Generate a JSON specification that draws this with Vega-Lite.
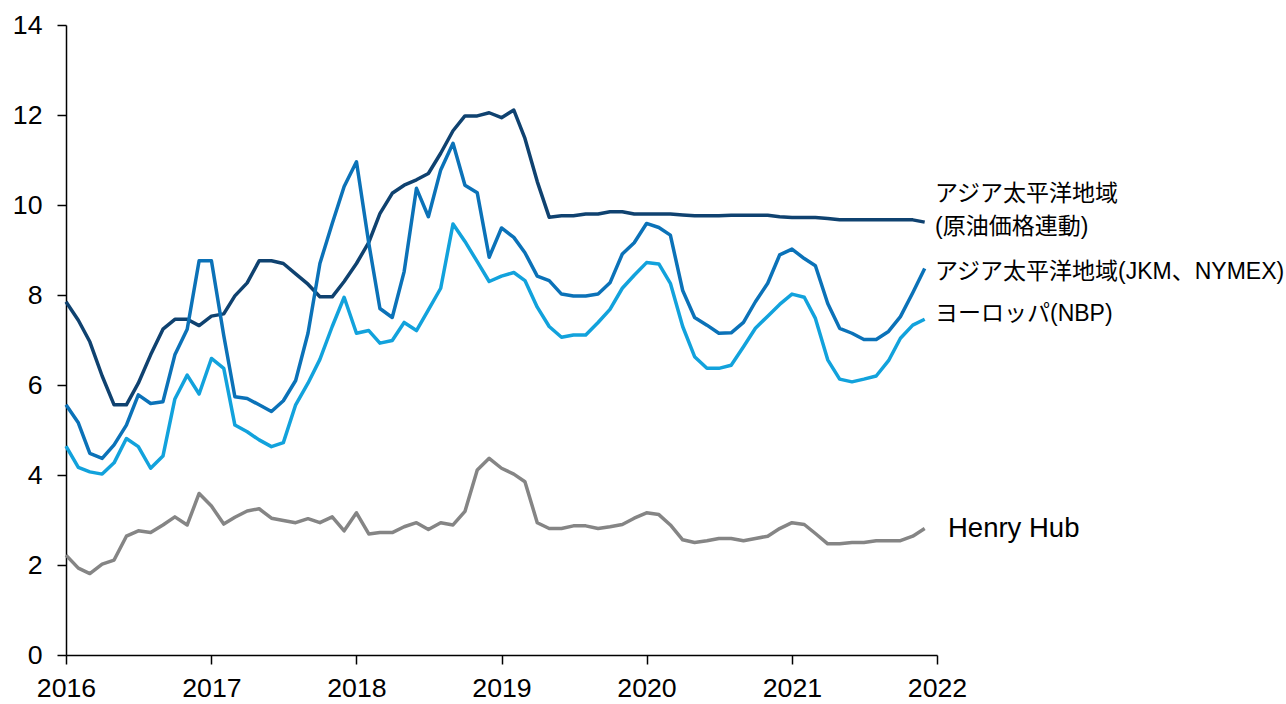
{
  "$schema": "https://vega.github.io/schema/vega-lite/v6.json",
  "width": 871,
  "height": 630,
  "autosize": {"type": "none"},
  "padding": {"left": 66, "top": 25, "right": 349, "bottom": 49},
  "background": "white",
  "config": {
    "view": {"stroke": null},
    "axis": {
      "grid": false,
      "domainColor": "black",
      "domainWidth": 1.5,
      "tickColor": "black",
      "tickWidth": 1.5,
      "tickSize": 9,
      "labelFont": "Liberation Sans",
      "labelFontSize": 26.7,
      "labelColor": "black",
      "title": null
    }
  },
  "datasets": {
    "prices": [
      {"date": "2016-01-01", "oil": 7.85, "jkm": 5.56, "nbp": 4.64, "hh": 2.22},
      {"date": "2016-02-01", "oil": 7.44, "jkm": 5.16, "nbp": 4.17, "hh": 1.93},
      {"date": "2016-03-01", "oil": 6.96, "jkm": 4.48, "nbp": 4.07, "hh": 1.81},
      {"date": "2016-04-01", "oil": 6.2, "jkm": 4.37, "nbp": 4.02, "hh": 2.02},
      {"date": "2016-05-01", "oil": 5.56, "jkm": 4.67, "nbp": 4.27, "hh": 2.11},
      {"date": "2016-06-01", "oil": 5.56, "jkm": 5.11, "nbp": 4.81, "hh": 2.64},
      {"date": "2016-07-01", "oil": 6.04, "jkm": 5.78, "nbp": 4.63, "hh": 2.76},
      {"date": "2016-08-01", "oil": 6.67, "jkm": 5.59, "nbp": 4.15, "hh": 2.72},
      {"date": "2016-09-01", "oil": 7.24, "jkm": 5.63, "nbp": 4.42, "hh": 2.89},
      {"date": "2016-10-01", "oil": 7.46, "jkm": 6.67, "nbp": 5.69, "hh": 3.07},
      {"date": "2016-11-01", "oil": 7.46, "jkm": 7.24, "nbp": 6.22, "hh": 2.89},
      {"date": "2016-12-01", "oil": 7.32, "jkm": 8.76, "nbp": 5.8, "hh": 3.59},
      {"date": "2017-01-01", "oil": 7.53, "jkm": 8.76, "nbp": 6.59, "hh": 3.31},
      {"date": "2017-02-01", "oil": 7.58, "jkm": 7.1, "nbp": 6.37, "hh": 2.91},
      {"date": "2017-03-01", "oil": 7.98, "jkm": 5.74, "nbp": 5.11, "hh": 3.06},
      {"date": "2017-04-01", "oil": 8.27, "jkm": 5.7, "nbp": 4.96, "hh": 3.2},
      {"date": "2017-05-01", "oil": 8.76, "jkm": 5.56, "nbp": 4.78, "hh": 3.25},
      {"date": "2017-06-01", "oil": 8.76, "jkm": 5.41, "nbp": 4.63, "hh": 3.04},
      {"date": "2017-07-01", "oil": 8.7, "jkm": 5.65, "nbp": 4.72, "hh": 2.99},
      {"date": "2017-08-01", "oil": 8.47, "jkm": 6.1, "nbp": 5.56, "hh": 2.94},
      {"date": "2017-09-01", "oil": 8.24, "jkm": 7.15, "nbp": 6.04, "hh": 3.03},
      {"date": "2017-10-01", "oil": 7.96, "jkm": 8.7, "nbp": 6.57, "hh": 2.94},
      {"date": "2017-11-01", "oil": 7.96, "jkm": 9.59, "nbp": 7.3, "hh": 3.07},
      {"date": "2017-12-01", "oil": 8.3, "jkm": 10.41, "nbp": 7.95, "hh": 2.76},
      {"date": "2018-01-01", "oil": 8.7, "jkm": 10.96, "nbp": 7.15, "hh": 3.16},
      {"date": "2018-02-01", "oil": 9.17, "jkm": 9.15, "nbp": 7.21, "hh": 2.69},
      {"date": "2018-03-01", "oil": 9.81, "jkm": 7.7, "nbp": 6.93, "hh": 2.72},
      {"date": "2018-04-01", "oil": 10.26, "jkm": 7.5, "nbp": 6.99, "hh": 2.72},
      {"date": "2018-05-01", "oil": 10.44, "jkm": 8.52, "nbp": 7.39, "hh": 2.85},
      {"date": "2018-06-01", "oil": 10.56, "jkm": 10.37, "nbp": 7.21, "hh": 2.94},
      {"date": "2018-07-01", "oil": 10.7, "jkm": 9.74, "nbp": 7.67, "hh": 2.79},
      {"date": "2018-08-01", "oil": 11.15, "jkm": 10.78, "nbp": 8.15, "hh": 2.94},
      {"date": "2018-09-01", "oil": 11.65, "jkm": 11.37, "nbp": 9.58, "hh": 2.89},
      {"date": "2018-10-01", "oil": 11.98, "jkm": 10.44, "nbp": 9.19, "hh": 3.19},
      {"date": "2018-11-01", "oil": 11.98, "jkm": 10.27, "nbp": 8.74, "hh": 4.11},
      {"date": "2018-12-01", "oil": 12.05, "jkm": 8.84, "nbp": 8.3, "hh": 4.37},
      {"date": "2019-01-01", "oil": 11.94, "jkm": 9.49, "nbp": 8.42, "hh": 4.15},
      {"date": "2019-02-01", "oil": 12.11, "jkm": 9.28, "nbp": 8.5, "hh": 4.02},
      {"date": "2019-03-01", "oil": 11.48, "jkm": 8.94, "nbp": 8.32, "hh": 3.85},
      {"date": "2019-04-01", "oil": 10.52, "jkm": 8.42, "nbp": 7.73, "hh": 2.94},
      {"date": "2019-05-01", "oil": 9.73, "jkm": 8.32, "nbp": 7.3, "hh": 2.81},
      {"date": "2019-06-01", "oil": 9.76, "jkm": 8.02, "nbp": 7.06, "hh": 2.81},
      {"date": "2019-07-01", "oil": 9.76, "jkm": 7.98, "nbp": 7.11, "hh": 2.87},
      {"date": "2019-08-01", "oil": 9.8, "jkm": 7.98, "nbp": 7.11, "hh": 2.87},
      {"date": "2019-09-01", "oil": 9.8, "jkm": 8.02, "nbp": 7.39, "hh": 2.81},
      {"date": "2019-10-01", "oil": 9.85, "jkm": 8.27, "nbp": 7.68, "hh": 2.85},
      {"date": "2019-11-01", "oil": 9.85, "jkm": 8.91, "nbp": 8.15, "hh": 2.9},
      {"date": "2019-12-01", "oil": 9.8, "jkm": 9.16, "nbp": 8.44, "hh": 3.04},
      {"date": "2020-01-01", "oil": 9.8, "jkm": 9.59, "nbp": 8.72, "hh": 3.16},
      {"date": "2020-02-01", "oil": 9.8, "jkm": 9.5, "nbp": 8.69, "hh": 3.12},
      {"date": "2020-03-01", "oil": 9.8, "jkm": 9.33, "nbp": 8.26, "hh": 2.89},
      {"date": "2020-04-01", "oil": 9.78, "jkm": 8.1, "nbp": 7.3, "hh": 2.56},
      {"date": "2020-05-01", "oil": 9.76, "jkm": 7.5, "nbp": 6.63, "hh": 2.5},
      {"date": "2020-06-01", "oil": 9.76, "jkm": 7.33, "nbp": 6.37, "hh": 2.54},
      {"date": "2020-07-01", "oil": 9.76, "jkm": 7.15, "nbp": 6.37, "hh": 2.59},
      {"date": "2020-08-01", "oil": 9.77, "jkm": 7.16, "nbp": 6.44, "hh": 2.59},
      {"date": "2020-09-01", "oil": 9.77, "jkm": 7.39, "nbp": 6.85, "hh": 2.54},
      {"date": "2020-10-01", "oil": 9.77, "jkm": 7.85, "nbp": 7.26, "hh": 2.59},
      {"date": "2020-11-01", "oil": 9.77, "jkm": 8.26, "nbp": 7.53, "hh": 2.64},
      {"date": "2020-12-01", "oil": 9.74, "jkm": 8.89, "nbp": 7.79, "hh": 2.81},
      {"date": "2021-01-01", "oil": 9.72, "jkm": 9.02, "nbp": 8.02, "hh": 2.94},
      {"date": "2021-02-01", "oil": 9.72, "jkm": 8.81, "nbp": 7.95, "hh": 2.9},
      {"date": "2021-03-01", "oil": 9.72, "jkm": 8.65, "nbp": 7.48, "hh": 2.7},
      {"date": "2021-04-01", "oil": 9.7, "jkm": 7.81, "nbp": 6.56, "hh": 2.47},
      {"date": "2021-05-01", "oil": 9.67, "jkm": 7.26, "nbp": 6.13, "hh": 2.47},
      {"date": "2021-06-01", "oil": 9.67, "jkm": 7.15, "nbp": 6.07, "hh": 2.5},
      {"date": "2021-07-01", "oil": 9.67, "jkm": 7.01, "nbp": 6.13, "hh": 2.5},
      {"date": "2021-08-01", "oil": 9.67, "jkm": 7.01, "nbp": 6.2, "hh": 2.54},
      {"date": "2021-09-01", "oil": 9.67, "jkm": 7.19, "nbp": 6.54, "hh": 2.54},
      {"date": "2021-10-01", "oil": 9.67, "jkm": 7.52, "nbp": 7.04, "hh": 2.54},
      {"date": "2021-11-01", "oil": 9.67, "jkm": 8.05, "nbp": 7.33, "hh": 2.64},
      {"date": "2021-12-01", "oil": 9.62, "jkm": 8.59, "nbp": 7.46, "hh": 2.81}
    ],
    "labels": [
      {"date": "2022-01-01", "value": 10.24, "label": "アジア太平洋地域"},
      {"date": "2022-01-01", "value": 9.51, "label": "(原油価格連動)"},
      {"date": "2022-01-01", "value": 8.51, "label": "アジア太平洋地域(JKM、NYMEX)"},
      {"date": "2022-01-01", "value": 7.58, "label": "ヨーロッパ(NBP)"}
    ],
    "hhlabel": [
      {"date": "2022-01-01", "value": 2.79, "label": "Henry Hub"}
    ]
  },
  "layer": [
    {
      "data": {"name": "prices"},
      "transform": [{"fold": ["hh", "oil", "jkm", "nbp"], "as": ["series", "value"]}],
      "mark": {"type": "line", "strokeWidth": 3.5, "strokeJoin": "round"},
      "encoding": {
        "x": {
          "field": "date",
          "type": "temporal",
          "scale": {"type": "utc", "domain": ["2016-01-01", "2022-01-01"]},
          "axis": {
            "format": "%Y",
            "values": [
              {"year": 2016, "month": 1, "date": 1, "utc": true},
              {"year": 2017, "month": 1, "date": 1, "utc": true},
              {"year": 2018, "month": 1, "date": 1, "utc": true},
              {"year": 2019, "month": 1, "date": 1, "utc": true},
              {"year": 2020, "month": 1, "date": 1, "utc": true},
              {"year": 2021, "month": 1, "date": 1, "utc": true},
              {"year": 2022, "month": 1, "date": 1, "utc": true}
            ],
            "labelPadding": 11,
            "labelFlush": false,
            "labelOverlap": false
          }
        },
        "y": {
          "field": "value",
          "type": "quantitative",
          "scale": {"domain": [0, 14], "nice": false, "zero": true},
          "axis": {"values": [0, 2, 4, 6, 8, 10, 12, 14], "labelPadding": 15}
        },
        "color": {
          "field": "series",
          "type": "nominal",
          "scale": {"domain": ["oil", "jkm", "nbp", "hh"], "range": ["#0f4270", "#0b72b8", "#12a2dc", "#858585"]},
          "legend": null
        },
        "order": {"field": "date", "type": "temporal"}
      }
    },
    {
      "data": {"name": "labels"},
      "mark": {"type": "text", "align": "left", "baseline": "middle", "dx": -2, "font": "Liberation Sans, Noto Sans CJK JP", "fontSize": 23, "color": "black"},
      "encoding": {
        "x": {"field": "date", "type": "temporal"},
        "y": {"field": "value", "type": "quantitative"},
        "text": {"field": "label"}
      }
    },
    {
      "data": {"name": "hhlabel"},
      "mark": {"type": "text", "align": "left", "baseline": "middle", "dx": 11, "font": "Liberation Sans", "fontSize": 27.5, "color": "black"},
      "encoding": {
        "x": {"field": "date", "type": "temporal"},
        "y": {"field": "value", "type": "quantitative"},
        "text": {"field": "label"}
      }
    }
  ]
}
